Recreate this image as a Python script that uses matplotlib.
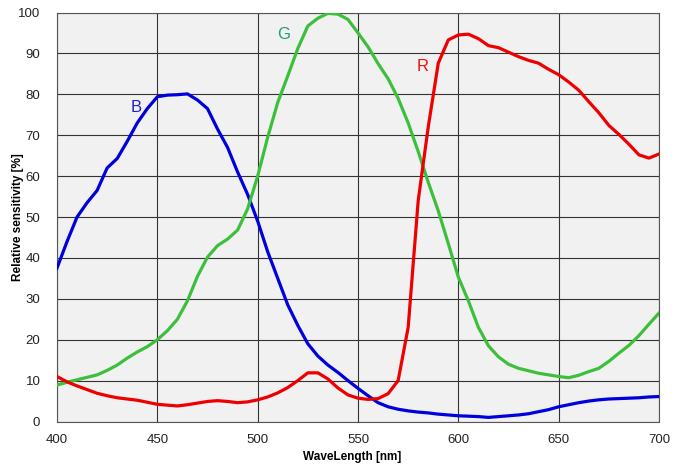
import matplotlib
matplotlib.use("Agg")
import matplotlib.pyplot as plt

wavelength = list(range(400, 705, 5))

blue = [37.5, 44, 50, 53.5, 56.5, 62, 64.3, 68.5, 73, 76.5, 79.4, 79.8, 79.9, 80.1, 78.6,
        76.5, 71.5, 67, 61, 55.5, 49, 41.5, 35, 28.5, 23.5, 19, 16, 13.8, 12, 10,
        8.1, 6.3, 4.6, 3.6, 3.0, 2.6, 2.3, 2.1, 1.8, 1.6, 1.4, 1.3, 1.2, 1.0, 1.2,
        1.4, 1.6, 1.9, 2.4, 2.9, 3.6, 4.1, 4.6, 5.0, 5.3, 5.5, 5.6, 5.7, 5.8, 6.0, 6.1]

green = [8.9, 9.6, 10.2, 10.8, 11.4, 12.5, 13.8, 15.5, 17, 18.3, 20, 22.2, 25, 29.5, 35.5,
         40.2, 43, 44.6, 46.8, 52, 60, 69.5, 78, 84.5, 91.2, 96.7, 98.6, 99.8, 99.6, 98.3,
         95, 91.6, 87.5, 83.8, 79, 73, 66, 58.5, 51.5, 43.5, 35.3, 29.5, 23, 18.5, 15.8,
         14, 13, 12.4, 11.8, 11.4, 11.0, 10.7, 11.3, 12.2, 13, 14.7, 16.7, 18.6, 21, 23.8, 26.5]

red = [11, 9.7, 8.7, 7.8, 6.9, 6.3, 5.8, 5.5, 5.2, 4.7, 4.2, 4.0, 3.8, 4.1, 4.5,
       4.9, 5.1, 4.9, 4.6, 4.8, 5.3, 6.0, 7.0, 8.3, 10.0, 11.9, 11.9, 10.4, 8.2, 6.5,
       5.7, 5.4, 5.6, 6.8, 10, 23, 54, 72, 87.6, 93.3, 94.5, 94.7, 93.6, 91.9, 91.4,
       90.3, 89.2, 88.3, 87.6, 86.1, 84.8, 83, 81, 78.2, 75.5, 72.4, 70.2, 67.8, 65.2, 64.4, 65.4]

x_ticks = [400, 450, 500, 550, 600, 650, 700]
y_ticks = [0, 10, 20, 30, 40, 50, 60, 70, 80, 90, 100]

curve_labels = ["B", "G", "R"]
label_pos = [(439.5, 76.7), (513, 94.5), (582, 86.7)]

plt.rcParams['font.family'] = ['Liberation Sans', 'DejaVu Sans']

fig = plt.figure(figsize=(6.85, 4.72), dpi=100)
ax = fig.add_axes([57/685, 1 - 421.5/472, (659-57)/685, (421.5-12.5)/472])
ax.set_facecolor('#f1f1f1')

ax.plot(wavelength, blue, color='#0000dd', lw=2.3, solid_joinstyle='round', zorder=3)
ax.plot(wavelength, green, color='#3cc03c', lw=2.3, solid_joinstyle='round', zorder=3)
ax.plot(wavelength, red, color='#ee0000', lw=2.3, solid_joinstyle='round', zorder=3)

label_colors = ['#2020cc', '#1f9f6a', '#ee1111']
for lab, (lx, ly), c in zip(curve_labels, label_pos, label_colors):
    ax.text(lx, ly, lab, color=c, fontsize=12, ha='center', va='center', zorder=4)

ax.set_xlim(400, 700)
ax.set_ylim(0, 100)
ax.set_xticks(x_ticks)
ax.set_yticks(y_ticks)
ax.grid(True, color='#333333', lw=0.8, zorder=1)
ax.set_axisbelow(True)
ax.tick_params(length=0, labelsize=9.5, colors='#222222', pad=9)
ax.tick_params(axis='y', pad=12)
for s in ax.spines.values():
    s.set_color('#555555')
    s.set_linewidth(0.8)

ax.set_xlabel('WaveLength [nm]', fontsize=8.5, fontweight='bold')
ax.set_ylabel('Relative sensitivity [%]', fontsize=8.5, fontweight='bold')
ax.xaxis.set_label_coords(0.49, -(457 - 421.5) / 409)
ax.yaxis.set_label_coords(-(57 - 18) / 602, 0.5)
ax.xaxis.label.set_va('center')
ax.yaxis.label.set_va('center')

fig.savefig('out.png', dpi=100)
